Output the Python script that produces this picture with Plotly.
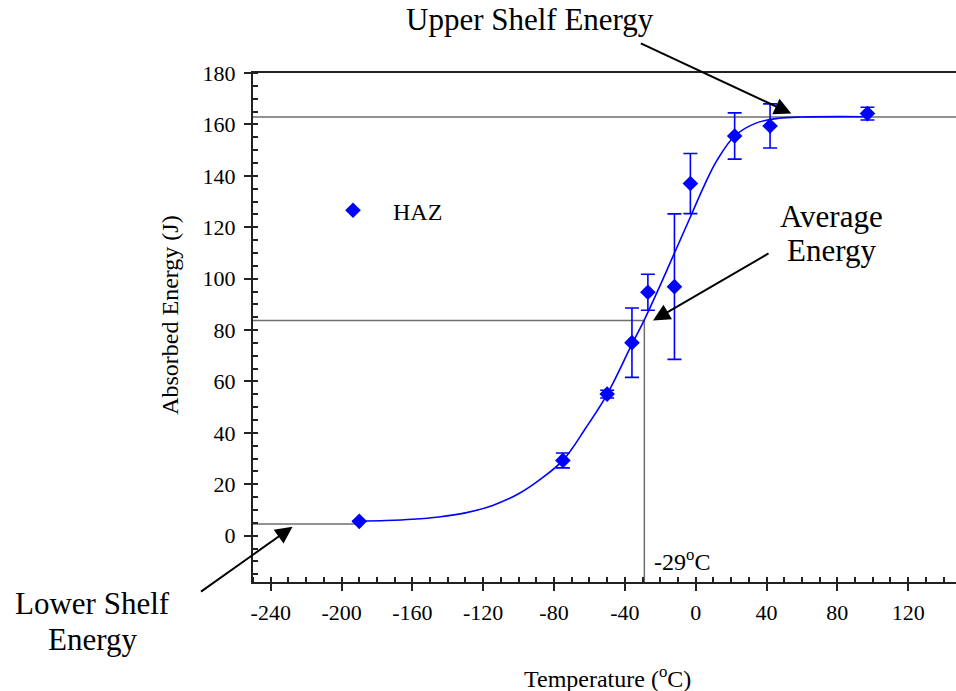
import plotly.graph_objects as go

# Charpy impact test results for the heat-affected zone
temps = [-190, -75, -50, -36, -27, -12, -3, 22, 42, 97]
energy = [5.6, 29.3, 55.1, 75.1, 94.7, 96.9, 137.0, 155.5, 159.4, 164.2]
energy_err = [0.0, 2.9, 1.5, 13.5, 7.0, 28.3, 11.7, 9.0, 8.6, 2.5]

# Ductile-to-brittle transition fit curve
fit_temps = [-190, -175, -160, -145, -130, -115, -100, -88, -75, -62, -50, -36,
             -29, -20, -12, -3, 5, 12, 22, 34, 47, 60, 97]
fit_energy = [5.6, 5.9, 6.4, 7.3, 8.9, 11.7, 16.3, 21.8, 29.3, 42.0, 55.0, 74.5,
              84.0, 97.5, 110.0, 124.0, 136.5, 146.0, 155.5, 160.5, 162.4, 162.9, 163.0]

upper_shelf = 162.9
lower_shelf = 4.6
avg_energy = (upper_shelf + lower_shelf) / 2
t_avg = -29

x_ticks = [-240, -200, -160, -120, -80, -40, 0, 40, 80, 120]
y_ticks = [0, 20, 40, 60, 80, 100, 120, 140, 160, 180]
x_range = [-250, 147]
y_range = [-18, 180]

BLUE = "#0000ff"
AXIS = "#222222"
REF = "#6e6e6e"
FONT = "Liberation Serif, Times New Roman, serif"

fig = go.Figure()

# fitted curve
fig.add_trace(go.Scatter(
    x=fit_temps, y=fit_energy, mode="lines",
    line=dict(color=BLUE, width=1.6, shape="spline"),
    showlegend=False, hoverinfo="skip"))

# error bars
fig.add_trace(go.Scatter(
    x=temps, y=energy, mode="markers",
    marker=dict(size=1, color="rgba(0,0,0,0)"),
    error_y=dict(type="data", array=energy_err, visible=True,
                 color=BLUE, thickness=1.6, width=7),
    showlegend=False, hoverinfo="skip"))

# measured points
fig.add_trace(go.Scatter(
    x=temps, y=energy, mode="markers", name="HAZ",
    marker=dict(symbol="diamond", size=12, color=BLUE,
                line=dict(width=0))))

# reference lines: shelves, average energy and transition temperature
shapes = [
    dict(type="line", xref="paper", x0=0, x1=1, yref="y",
         y0=upper_shelf, y1=upper_shelf, line=dict(color=REF, width=1.5)),
    dict(type="line", xref="x", x0=x_range[0], x1=temps[0], yref="y",
         y0=lower_shelf, y1=lower_shelf, line=dict(color=REF, width=1.5)),
    dict(type="line", xref="x", x0=x_range[0], x1=t_avg, yref="y",
         y0=avg_energy, y1=avg_energy, line=dict(color=REF, width=1.5)),
    dict(type="line", xref="x", x0=t_avg, x1=t_avg, yref="y",
         y0=y_range[0], y1=avg_energy, line=dict(color=REF, width=1.5)),
]
for s in shapes:
    s["layer"] = "below"


def paper_label(text, x, y, size, angle=0):
    return dict(text=text, xref="paper", yref="paper", x=x, y=y,
                xanchor="center", yanchor="middle", textangle=angle,
                showarrow=False, font=dict(family=FONT, size=size, color="black"))


def callout_arrow(x, y, ax, ay):
    return dict(text="", xref="x", yref="y", x=x, y=y, ax=ax, ay=ay,
                showarrow=True, arrowhead=2, arrowsize=1.7, arrowwidth=2,
                arrowcolor="black", standoff=0)


annotations = [
    # axis titles
    paper_label("Absorbed Energy (J)", -0.118, 0.525, 24, angle=-90),
    paper_label("Temperature (<sup>o</sup>C)", 0.5036, (582 - 677) / 509, 24),
    # transition temperature label
    dict(text=f"{t_avg}<sup>o</sup>C", xref="x", yref="y",
         x=t_avg, y=-9.6, xanchor="left", yanchor="middle", xshift=8,
         showarrow=False, font=dict(family=FONT, size=24)),
    # callout texts
    paper_label("Upper Shelf Energy", 0.394, (582 - 20) / 509, 31),
    paper_label("Average", 0.8236, (582 - 216) / 509, 31),
    paper_label("Energy", 0.8236, (582 - 251) / 509, 31),
    paper_label("Lower Shelf", -0.229, (582 - 603) / 509, 31),
    paper_label("Energy", -0.229, (582 - 639) / 509, 31),
    # callout arrows
    callout_arrow(54, 164.2, -152, -71),
    callout_arrow(-24.1, 83.7, 117, -68),
    callout_arrow(-227.7, 3.5, -93, 66),
]

fig.update_layout(
    width=956, height=691,
    margin=dict(l=253, r=0, t=73, b=109),
    plot_bgcolor="white", paper_bgcolor="white",
    font=dict(family=FONT, color="black"),
    shapes=shapes, annotations=annotations,
    showlegend=True,
    legend=dict(x=(313 - 253) / 703, y=(582 - 210.7) / 509,
                xanchor="left", yanchor="middle",
                bgcolor="rgba(0,0,0,0)", itemwidth=70,
                font=dict(family=FONT, size=24)),
    xaxis=dict(range=x_range, tickmode="array", tickvals=x_ticks,
               ticktext=[str(v) for v in x_ticks],
               ticks="outside", ticklen=7, tickwidth=1.5, tickcolor=AXIS,
               showline=True, linecolor=AXIS, linewidth=2, mirror=True,
               showgrid=False, zeroline=False, ticklabelstandoff=3,
               tickfont=dict(family=FONT, size=22),
               minor=dict(ticks="inside", ticklen=5, tickwidth=1.5,
                          tickcolor=AXIS, tickmode="linear", tick0=0,
                          dtick=10, showgrid=False)),
    yaxis=dict(range=y_range, tickmode="array", tickvals=y_ticks,
               ticktext=[str(v) for v in y_ticks],
               ticks="outside", ticklen=7, tickwidth=1.5, tickcolor=AXIS,
               showline=True, linecolor=AXIS, linewidth=2,
               showgrid=False, zeroline=False, ticklabelstandoff=4,
               tickfont=dict(family=FONT, size=22),
               minor=dict(ticks="inside", ticklen=5, tickwidth=1.5,
                          tickcolor=AXIS, tickmode="linear", tick0=0,
                          dtick=5, showgrid=False)),
)

fig.write_html("out.html")
